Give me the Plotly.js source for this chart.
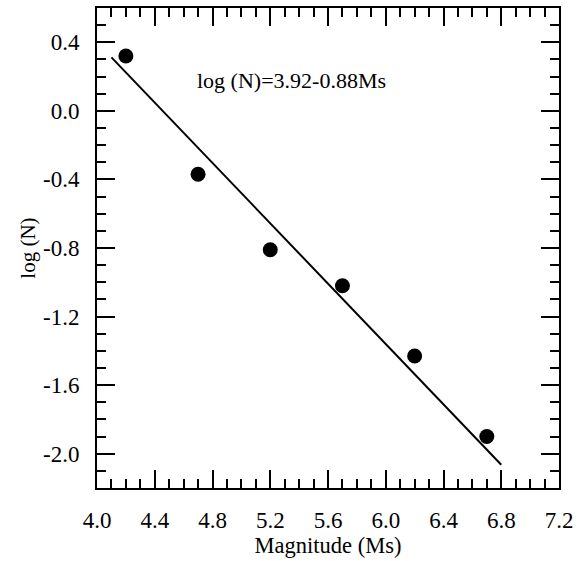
<!DOCTYPE html>
<html>
<head>
<meta charset="utf-8">
<script src="https://cdn.plot.ly/plotly-3.0.1.min.js"></script>
<style>html,body{margin:0;padding:0;background:#fff;}#chart{width:581px;height:561px;}</style>
</head>
<body>
<div id="chart"></div>
<script>
// Observed data
const magnitude = [4.2, 4.7, 5.2, 5.7, 6.2, 6.7];
const logN = [0.32, -0.37, -0.81, -1.02, -1.43, -1.90];
// Fitted line endpoints (log N = 3.92 - 0.88 Ms)
const fitX = [4.1, 6.8];
const fitY = [0.312, -2.064];
const equationLabel = "log (N)=3.92-0.88Ms";
const xTickVals = [4.0, 4.4, 4.8, 5.2, 5.6, 6.0, 6.4, 6.8, 7.2];
const xTickText = ["4.0", "4.4", "4.8", "5.2", "5.6", "6.0", "6.4", "6.8", "7.2"];
const yTickVals = [0.4, 0.0, -0.4, -0.8, -1.2, -1.6, -2.0];
const yTickText = ["0.4", "0.0", "-0.4", "-0.8", "-1.2", "-1.6", "-2.0"];

const font = "Liberation Serif, Times New Roman, serif";

const traces = [
  {x: fitX, y: fitY, mode: 'lines', line: {color: '#000', width: 2}, hoverinfo: 'skip'},
  {x: magnitude, y: logN, mode: 'markers', marker: {color: '#000', size: 15}}
];

const axisCommon = {
  showgrid: false, zeroline: false, showline: true, linecolor: '#000', linewidth: 2,
  mirror: 'allticks', ticks: 'inside', ticklen: 18, tickwidth: 2, tickcolor: '#000',
  tickfont: {family: font, size: 23, color: '#000'}
};

const layout = {
  width: 581, height: 561,
  margin: {l: 97, r: 22, t: 8, b: 73},
  paper_bgcolor: '#fff', plot_bgcolor: '#fff',
  showlegend: false,
  font: {family: font, color: '#000'},
  xaxis: Object.assign({}, axisCommon, {
    range: [4.0, 7.2], tickmode: 'array', tickvals: xTickVals, ticktext: xTickText,
    ticklabelstandoff: 10,
    minor: {dtick: 0.1, tick0: 4.0, ticks: 'inside', ticklen: 9, tickwidth: 2, tickcolor: '#000'},
    title: {text: 'Magnitude (Ms)', font: {family: font, size: 22.5, color: '#000'}, standoff: 3}
  }),
  yaxis: Object.assign({}, axisCommon, {
    range: [-2.2, 0.6], tickmode: 'array', tickvals: yTickVals, ticktext: yTickText,
    ticklabelstandoff: 11,
    minor: {dtick: 0.1, tick0: 0, ticks: 'inside', ticklen: 9, tickwidth: 2, tickcolor: '#000'},
    title: {text: 'log (N)', font: {family: font, size: 21, color: '#000'}, standoff: 2}
  }),
  annotations: [{
    x: 4.7, y: 0.18, xref: 'x', yref: 'y', xanchor: 'left', yanchor: 'middle', xshift: -3,
    text: equationLabel, showarrow: false, font: {family: font, size: 22, color: '#000'}
  }]
};

Plotly.newPlot('chart', traces, layout, {displayModeBar: false, staticPlot: true});
</script>
</body>
</html>
